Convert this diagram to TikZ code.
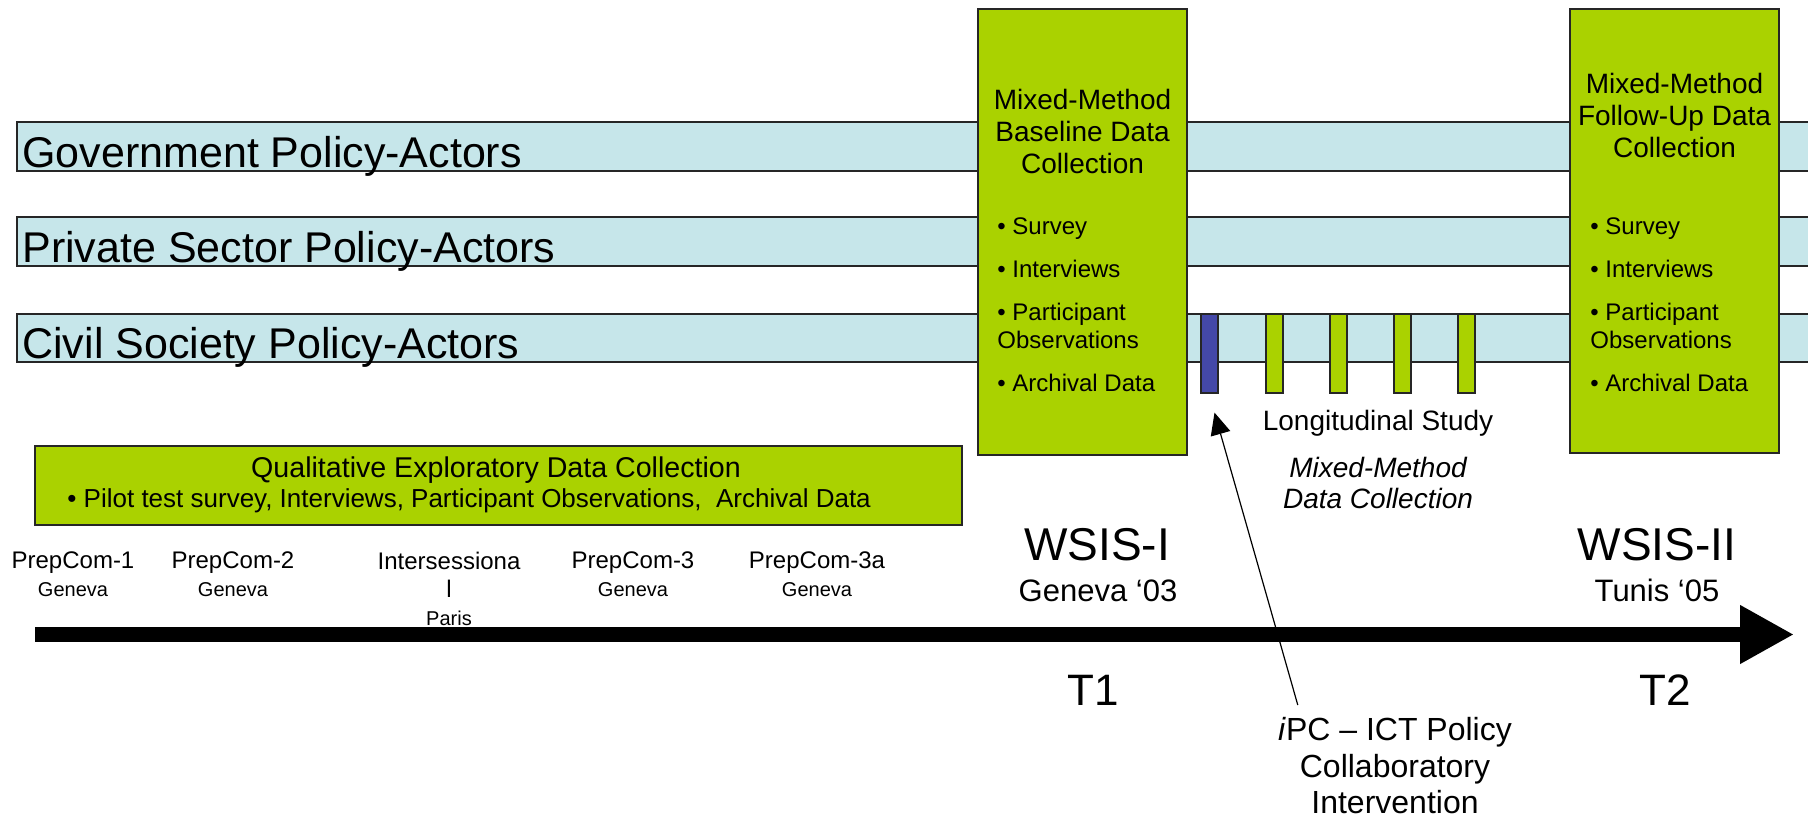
\documentclass[tikz,border=0pt]{standalone}
\usepackage{fontspec}
\setmainfont{Liberation Sans}
\usepackage{xcolor}
\usetikzlibrary{arrows.meta}

\definecolor{bandblue}{RGB}{198,230,234}
\definecolor{limegreen}{RGB}{170,210,0}
\definecolor{barblue}{RGB}{68,72,168}

\begin{document}
\begin{tikzpicture}[x=0.5pt,y=-0.5pt,
  plaintext/.style={inner sep=0pt},
  bandrect/.style={draw=black!85,fill=bandblue,line width=0.6pt},
  bandlabel/.style={inner sep=0pt,anchor=base west,font=\fontsize{21.5}{24}\selectfont},
  greenbox/.style={draw=black!85,fill=limegreen,line width=0.7pt,inner sep=0pt},
  barbox/.style={draw=black!85,line width=0.6pt,inner sep=0pt,minimum width=8.5pt,minimum height=39.5pt},
  boxtitle/.style={inner sep=0pt,align=center,anchor=north,font=\fontsize{14}{16}\selectfont},
  boxitems/.style={inner sep=0pt,align=left,anchor=north west,font=\fontsize{12}{14}\selectfont},
  eventlabel/.style={inner sep=0pt,align=center,anchor=north,font=\fontsize{12}{14}\selectfont}]

\useasboundingbox (0,0) rectangle (1808,819);

% Actor bands
\draw[bandrect] (17,122) rectangle (1812,171);
\draw[bandrect] (17,217) rectangle (1812,266);
\draw[bandrect] (17,314) rectangle (1812,362);
\node[bandlabel] (govt) at (22,167) {Government Policy-Actors};
\node[bandlabel] (private) at (22,262) {Private Sector Policy-Actors};
\node[bandlabel] (civil) at (22,358) {Civil Society Policy-Actors};

% Baseline and follow-up collection boxes
\node[greenbox,minimum width=104.5pt,minimum height=223pt] (baseline) at (1082.5,232) {};
\node[boxtitle] (baselineTitle) at (1082.5,89) {Mixed-Method\\Baseline Data\\Collection};
\node[boxitems] (baselineItems) at (997,217) {• Survey\\[7.5pt]• Interviews\\[7.5pt]• Participant\\Observations\\[7.5pt]• Archival Data};

\node[greenbox,minimum width=104.5pt,minimum height=222pt] (followup) at (1674.5,231) {};
\node[boxtitle] (followupTitle) at (1674.5,73) {Mixed-Method\\Follow-Up Data\\Collection};
\node[boxitems] (followupItems) at (1590,217) {• Survey\\[7.5pt]• Interviews\\[7.5pt]• Participant\\Observations\\[7.5pt]• Archival Data};

% Intervention and longitudinal waves
\node[barbox,fill=barblue] (ipcbar) at (1209.5,353.5) {};
\foreach \i in {0,...,3}
  \node[barbox,fill=limegreen] (wave\i) at (1274.5+64*\i,353.5) {};
\node[plaintext,anchor=base,font=\fontsize{14}{16}\selectfont] (longit) at (1378,430) {Longitudinal Study};
\node[plaintext,anchor=north,align=center,font=\itshape\fontsize{14}{15.5}\selectfont] (mixedLabel) at (1378,457) {Mixed-Method\\Data Collection};

% Qualitative exploratory box
\node[greenbox,minimum width=463.5pt,minimum height=39.5pt] (qualbox) at (498.5,485.5) {};
\node[plaintext,anchor=base,font=\fontsize{14.3}{16}\selectfont] (qualTitle) at (496,477) {Qualitative Exploratory Data Collection};
\node[plaintext,anchor=base west,font=\fontsize{13}{15}\selectfont] (qualItems) at (67,507) {• Pilot test survey, Interviews, Participant Observations, \ Archival Data};

% Preparatory meetings
\foreach \name/\xc/\event/\place in {pc1/73/PrepCom-1/Geneva, pc2/233/PrepCom-2/Geneva, inter/449/{Intersessiona\\l}/Paris, pc3/633/PrepCom-3/Geneva, pc3a/817/PrepCom-3a/Geneva}
  \node[eventlabel] (\name) at (\xc,551.5) {\event\\{\fontsize{10}{14}\selectfont\place}};

% Time line
\coordinate (tstart) at (35,634.5);
\coordinate (tend) at (1794,634.5);
\draw[line width=7.5pt,-{Triangle[length=27pt,width=27.5pt]}] (tstart) -- (tend);

% Summits
\node[plaintext,anchor=base,font=\fontsize{23}{26}\selectfont] (wsis1) at (1097,560) {WSIS-I};
\node[plaintext,anchor=base,font=\fontsize{15.5}{18}\selectfont] (geneva03) at (1098,601) {Geneva ‘03};
\node[plaintext,anchor=base,font=\fontsize{22}{26}\selectfont] (t1) at (1093,705) {T1};
\node[plaintext,anchor=base,font=\fontsize{23}{26}\selectfont] (wsis2) at (1657,560) {WSIS-II};
\node[plaintext,anchor=base,font=\fontsize{15.5}{18}\selectfont] (tunis05) at (1657,601) {Tunis ‘05};
\node[plaintext,anchor=base,font=\fontsize{22}{26}\selectfont] (t2) at (1665,705) {T2};

% Intervention label
\node[plaintext,anchor=north,align=center,font=\fontsize{16}{18.25}\selectfont] (ipc) at (1395,717) {\textit{i}PC – ICT Policy\\Collaboratory\\Intervention};
\draw[line width=0.6pt,-{Triangle[length=11pt,width=10pt]}] ([xshift=10pt,yshift=6pt]ipc.north west) -- ([xshift=2.5pt,yshift=-9.5pt]ipcbar.south);

\end{tikzpicture}
\end{document}
